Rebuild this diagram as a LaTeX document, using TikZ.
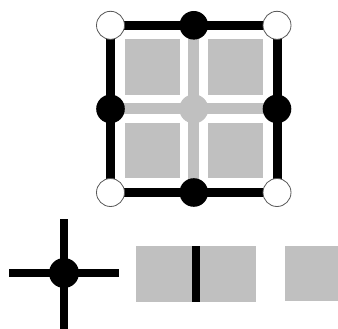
\documentclass[tikz,border=0pt]{standalone}
\definecolor{tilegray}{RGB}{192,192,192}
\usetikzlibrary{positioning}
\tikzset{
  frameline/.style={line width=9pt, black},
  gridline/.style={line width=11pt, tilegray},
  armline/.style={line width=7.5pt, black},
  blackdot/.style={circle, fill=black, inner sep=0pt, minimum size=28.6pt},
  whitedot/.style={circle, fill=white, draw=black!65, line width=0.8pt, inner sep=0pt, minimum size=28pt},
  graydot/.style={circle, fill=tilegray, inner sep=0pt, minimum size=29pt},
}

\begin{document}
\begin{tikzpicture}[x=1pt,y=-1pt]
      \useasboundingbox (0,0) rectangle (338,329);
      % corners and midpoints of the cell
      \coordinate (tl) at (110.5,25.3);
      \coordinate (tr) at (277,25.3);
      \coordinate (bl) at (110.5,192.5);
      \coordinate (br) at (277,192.5);
      \coordinate (tm) at (193.8,25.3);
      \coordinate (bm) at (193.8,192.5);
      \coordinate (ml) at (110.5,108.9);
      \coordinate (mr) at (277,108.9);
      \coordinate (c) at (193.8,108.9);
      % tiles
      \fill[tilegray] (124.5,39.3) rectangle ++(55.5,55.5);
      \fill[tilegray] (207.6,39.3) rectangle ++(55.5,55.5);
      \fill[tilegray] (124.5,122.7) rectangle ++(55.5,55.5);
      \fill[tilegray] (207.6,122.7) rectangle ++(55.5,55.5);
      \draw[gridline] (tm) -- (bm);
      \draw[gridline] (ml) -- (mr);
      \draw[frameline] (tl) -- (tr) -- (br) -- (bl) -- cycle;
      \node[graydot] (cdot) at (c) {};
      \node[whitedot] (tldot) at (tl) {};
      \node[whitedot] (trdot) at (tr) {};
      \node[whitedot] (bldot) at (bl) {};
      \node[whitedot] (brdot) at (br) {};
      \node[blackdot] (tmdot) at (tm) {};
      \node[blackdot] (bmdot) at (bm) {};
      \node[blackdot] (mldot) at (ml) {};
      \node[blackdot] (mrdot) at (mr) {};
      % junction
      \coordinate (jw) at (9.3,273);
      \coordinate (je) at (119,273);
      \coordinate (jn) at (64,219.3);
      \coordinate (js) at (64,329);
      \draw[armline] (jw) -- (je);
      \draw[armline] (jn) -- (js);
      \node[blackdot, minimum size=30pt] (jdot) at (64,273) {};
      % wall between two tiles, then a lone tile
      \fill[tilegray] (136,246) rectangle (192.3,301.5);
      \fill[black] (192.3,246) rectangle (200,301.5);
      \fill[tilegray] (200,246) rectangle (256,301.5);
      \fill[tilegray] (285,245.5) rectangle (338,301);
    \end{tikzpicture}
\end{document}
